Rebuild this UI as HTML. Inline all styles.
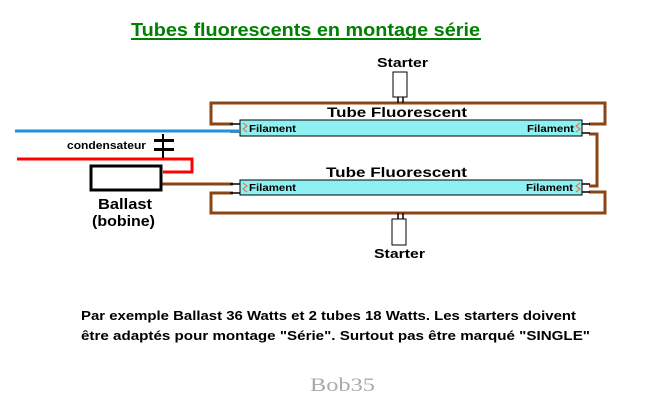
<!DOCTYPE html>
<html><head><meta charset="utf-8"><style>
html,body{margin:0;padding:0;background:#fff;}
svg{display:block}
text{font-family:"Liberation Sans",sans-serif;font-weight:bold;}
</style></head><body>
<svg width="650" height="404" viewBox="0 0 650 404" xmlns="http://www.w3.org/2000/svg">
<rect width="650" height="404" fill="#fff"/>
<text x="131" y="36" font-size="18" fill="#008000" textLength="349" lengthAdjust="spacingAndGlyphs">Tubes fluorescents en montage série</text>
<rect x="131" y="38" width="350" height="2" fill="#008000"/>
<g fill="none" stroke="#8B4513" stroke-width="3">
<polyline points="233,124 211,124 211,103 605,103 605,124 589,124"/>
<polyline points="589,134 597,134 597,186 589,186"/>
<polyline points="233,193 211,193 211,213 605,213 605,192 589,192"/>
<polyline points="162,184 233,184"/>
</g>
<g stroke="#000" stroke-width="1.5">
<line x1="230" y1="124" x2="240" y2="124"/><line x1="230" y1="132" x2="240" y2="132"/>
<line x1="230" y1="184" x2="240" y2="184"/><line x1="230" y1="193" x2="240" y2="193"/>
<line x1="582" y1="124" x2="590" y2="124"/><line x1="582" y1="133" x2="590" y2="133"/>
<line x1="582" y1="184" x2="590" y2="184"/><line x1="582" y1="192" x2="590" y2="192"/>
<line x1="398" y1="97" x2="398" y2="103"/><line x1="403" y1="97" x2="403" y2="103"/>
<line x1="398" y1="213" x2="398" y2="219"/><line x1="403" y1="213" x2="403" y2="219"/>
</g>
<rect x="240" y="120" width="342" height="16" fill="#8ef0f0" stroke="#000" stroke-width="1"/>
<rect x="240" y="180" width="342" height="15" fill="#8ef0f0" stroke="#000" stroke-width="1"/>
<g fill="none" stroke="#ff6030" stroke-width="1">
<polyline points="243,123 247,126 243,129 247,132"/>
<polyline points="243,183 247,186 243,189 247,192"/>
<polyline points="580,123 576,126 580,129 576,132"/>
<polyline points="580,183 576,186 580,189 576,192"/>
</g>
<text x="249" y="132" font-size="10" textLength="47" lengthAdjust="spacingAndGlyphs">Filament</text>
<text x="249" y="191" font-size="10" textLength="47" lengthAdjust="spacingAndGlyphs">Filament</text>
<text x="527" y="132" font-size="10" textLength="47" lengthAdjust="spacingAndGlyphs">Filament</text>
<text x="526" y="191" font-size="10" textLength="47" lengthAdjust="spacingAndGlyphs">Filament</text>
<text x="327" y="117" font-size="14" textLength="140" lengthAdjust="spacingAndGlyphs">Tube  Fluorescent</text>
<text x="326" y="177" font-size="14" textLength="141" lengthAdjust="spacingAndGlyphs">Tube  Fluorescent</text>
<rect x="393" y="72" width="14" height="25" fill="#fff" stroke="#000"/>
<rect x="392" y="219" width="14" height="26" fill="#fff" stroke="#000"/>
<text x="377" y="67" font-size="13" textLength="51" lengthAdjust="spacingAndGlyphs">Starter</text>
<text x="374" y="258" font-size="13" textLength="51" lengthAdjust="spacingAndGlyphs">Starter</text>
<line x1="15" y1="131" x2="240" y2="131" stroke="#1e90e0" stroke-width="3"/>
<polyline points="17,159 192,159 192,172 163,172" fill="none" stroke="#f00" stroke-width="3"/>
<line x1="163" y1="134" x2="163" y2="158" stroke="#000" stroke-width="2"/>
<rect x="154" y="139" width="20" height="3" fill="#000"/>
<rect x="154" y="148" width="20" height="3" fill="#000"/>
<text x="67" y="149" font-size="11" textLength="79" lengthAdjust="spacingAndGlyphs">condensateur</text>
<rect x="91" y="166" width="70" height="24" fill="#fff" stroke="#000" stroke-width="3"/>
<text x="98" y="209" font-size="15" textLength="54" lengthAdjust="spacingAndGlyphs">Ballast</text>
<text x="92" y="226" font-size="15" textLength="63" lengthAdjust="spacingAndGlyphs">(bobine)</text>
<text x="81" y="320" font-size="13" textLength="495" lengthAdjust="spacingAndGlyphs">Par exemple Ballast 36 Watts et 2 tubes 18 Watts. Les starters doivent</text>
<text x="81" y="340" font-size="13" textLength="509" lengthAdjust="spacingAndGlyphs">être adaptés pour montage "Série". Surtout pas être marqué "SINGLE"</text>
<text x="310" y="391" font-size="19" fill="#aaa" textLength="65" lengthAdjust="spacingAndGlyphs" style="font-family:'Liberation Serif',serif;font-weight:normal">Bob35</text>
</svg>
</body></html>
